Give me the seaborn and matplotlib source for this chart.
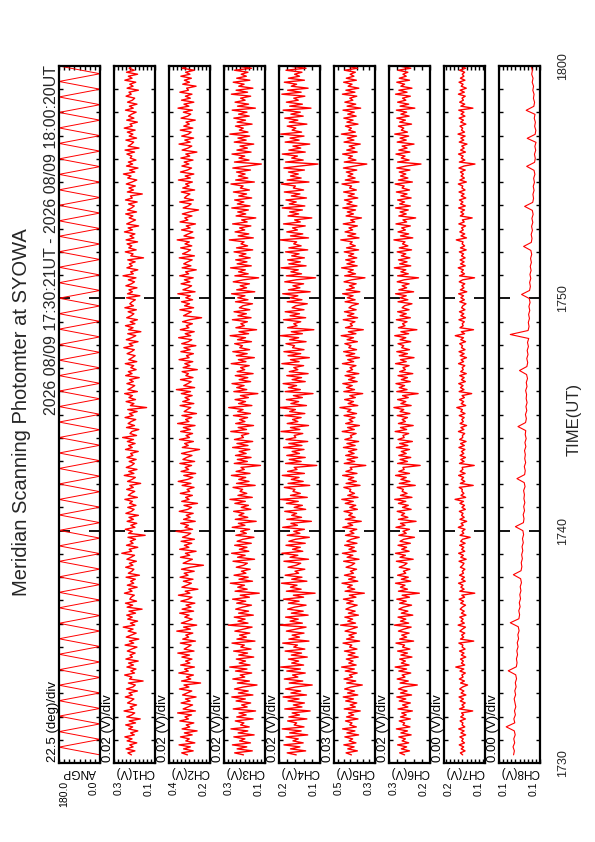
import numpy as np
import matplotlib
matplotlib.use('Agg')
import matplotlib.pyplot as plt
import seaborn as sns
from matplotlib.ticker import MultipleLocator

sns.set_theme(style='white')
plt.rcParams['font.family'] = ['Liberation Sans', 'DejaVu Sans']

TITLE = 'Meridian Scanning Photomter at SYOWA'
PERIOD = '2026 08/09 17:30:21UT - 2026 08/09 18:00:20UT'
CHANNELS = ['ANGP', 'CH1(V)', 'CH2(V)', 'CH3(V)', 'CH4(V)', 'CH5(V)', 'CH6(V)', 'CH7(V)', 'CH8(V)']
SCALE_LABELS = ['22.5 (deg)/div', '0.02 (V)/div', '0.02 (V)/div', '0.02 (V)/div', '0.02 (V)/div',
                '0.03 (V)/div', '0.02 (V)/div', '0.00 (V)/div', '0.00 (V)/div']
AXIS_MAX = [180.0, 0.3, 0.4, 0.3, 0.2, 0.5, 0.3, 0.17, 0.14]
AXIS_MIN = [0.0, 0.1, 0.2, 0.1, 0.1, 0.3, 0.2, 0.13, 0.10]
DIV = [22.5, 0.02, 0.02, 0.02, 0.02, 0.03, 0.02, 0.004, 0.004]
EDGE_LABELS = [('180.0', '0.0'), ('0.3', '0.1'), ('0.4', '0.2'), ('0.3', '0.1'), ('0.2', '0.1'),
               ('0.5', '0.3'), ('0.3', '0.2'), ('0.2', '0.1'), ('0.1', '0.1')]
TIME_TICKS = [0, 10, 20, 30]          # minutes after 17:30 UT
TIME_LABELS = ['1730', '1740', '1750', '1800']
T_START, T_END = 21 / 60, 30 + 20 / 60  # 17:30:21 .. 18:00:20

# Scan angle turning points (deg)
ANGP = [0, 180, 0, 180, 0, 180, 0, 180, 0, 180, 0, 180, 0, 180, 0, 180, 0, 180, 0, 180,
        0, 180, 0, 180, 0, 180, 0, 180, 0, 180, 0, 180, 0, 180, 0, 180, 0, 180, 0, 180,
        0, 180, 0, 180, 0, 180, 0, 180, 0, 180, 0, 180, 0, 180, 0, 180, 0, 180, 0, 180,
        0, 180, 0, 180, 0, 180, 0, 180, 0, 180, 0, 180, 0, 180, 0, 180, 0, 180, 0, 180,
        0, 180, 0, 180, 0, 180, 0, 180, 0, 180, 0]

# Channel intensities in mV
CH1_MV = [
    215, 232, 198, 241, 207, 223, 189, 236, 212, 247, 201, 219, 184, 228, 209, 243, 195, 226, 172, 238, 214, 199, 251, 206, 221,
    190, 234, 217, 203, 245, 211, 227, 186, 239, 208, 196, 230, 158, 224, 213, 248, 200, 218, 193, 237, 205, 229, 182, 242, 210,
    222, 197, 235, 214, 188, 246, 204, 225, 179, 240, 216, 192, 231, 207, 255, 199, 220, 185, 233, 211, 238, 195, 227, 163, 236,
    209, 244, 190, 223, 216, 201, 249, 212, 228, 187, 235, 204, 219, 196, 241, 176, 230, 213, 203, 243, 208, 225, 191, 237, 217,
    200, 262, 214, 226, 184, 239, 207, 221, 195, 232, 148, 229, 211, 245, 198, 218, 189, 236, 205, 227, 181, 242, 215, 202, 233,
    193, 224, 210, 247, 186, 230, 217, 199, 238, 206, 223, 170, 234, 212, 196, 250, 203, 228, 188, 240, 214, 201, 226, 192, 237,
    208, 219, 182, 244, 211, 229, 197, 235, 205, 258, 190, 222, 213, 179, 239, 200, 231, 216, 194, 246, 207, 225, 187, 233, 141,
    220, 203, 241, 195, 227, 210, 248, 186, 232, 214, 199, 237, 206, 224, 177, 243, 212, 230, 192, 218, 204, 245, 189, 228, 211,
    197, 236, 215, 201, 252, 208, 226, 183, 240, 213, 194, 233, 169, 229, 207, 244, 198, 221, 186, 238, 216, 203, 231, 191, 247,
    205, 223, 212, 196, 239, 174, 234, 210, 227, 188, 242, 215, 200, 230, 193, 256, 206, 219, 184, 237, 211, 225, 197, 233, 156,
    218, 207, 245, 192, 228, 213, 236, 185, 241, 203, 222, 198, 249, 210, 231, 180, 238, 216, 195, 226, 208, 243, 190, 234, 214,
    201, 229, 187, 244, 211, 220, 162, 235, 205, 227, 196, 240, 212, 189, 233, 217, 254, 199, 224, 183, 239, 209, 230, 193, 221,
    213, 237, 200, 246, 178, 231, 215, 204, 242, 190, 226, 208, 235, 197, 250, 211, 222, 186, 238, 203, 229, 214, 192, 244, 206,
    225, 188, 234, 210, 199, 241, 216, 227, 181, 236, 207, 223, 194, 247, 212, 230, 185, 239, 201, 226, 215, 196, 243, 208, 232]
CH2_MV = [
    310, 338, 282, 329, 296, 351, 274, 318, 301, 344, 287, 325, 263, 336, 299, 316, 279, 347, 305, 322, 290, 358, 271, 331, 308,
    285, 341, 297, 320, 268, 334, 312, 289, 349, 303, 327, 246, 339, 294, 315, 281, 352, 306, 324, 276, 343, 298, 319, 288, 337,
    300, 357, 278, 326, 309, 292, 345, 271, 333, 304, 318, 284, 362, 296, 329, 265, 340, 311, 287, 323, 302, 348, 280, 336, 293,
    317, 274, 342, 306, 288, 354, 298, 321, 259, 337, 313, 291, 330, 283, 346, 307, 326, 277, 339, 295, 232, 331, 309, 286, 344,
    299, 320, 268, 348, 303, 325, 289, 341, 276, 334, 310, 294, 366, 285, 322, 305, 343, 272, 329, 297, 316, 282, 350, 308, 290,
    327, 261, 338, 302, 319, 286, 345, 299, 312, 278, 336, 293, 355, 309, 284, 328, 270, 341, 304, 321, 290, 347, 275, 332, 314,
    288, 339, 297, 251, 335, 306, 324, 281, 349, 300, 317, 285, 343, 296, 330, 273, 358, 303, 319, 289, 337, 266, 326, 311, 294,
    346, 279, 333, 301, 322, 287, 340, 295, 364, 275, 328, 308, 292, 344, 283, 318, 305, 336, 262, 331, 298, 323, 284, 351, 302,
    315, 281, 342, 297, 327, 269, 338, 306, 289, 353, 294, 321, 277, 345, 303, 316, 286, 334, 299, 241, 329, 310, 291, 347, 280,
    324, 300, 339, 285, 318, 296, 357, 273, 332, 307, 290, 341, 298, 325, 282, 348, 304, 319, 267, 336, 293, 328, 309, 287, 350,
    276, 334, 311, 295, 343, 289, 322, 301, 360, 278, 327, 305, 284, 339, 297, 316, 271, 346, 308, 323, 288, 335, 300, 256, 331,
    306, 292, 348, 281, 325, 314, 298, 340, 275, 333, 302, 319, 286, 354, 296, 321, 279, 344, 310, 290, 337, 303, 326, 283, 342,
    299, 318, 264, 336, 307, 289, 351, 297, 323, 280, 338, 305, 292, 345, 284, 328, 301, 317, 272, 341, 309, 294, 330, 286, 356,
    303, 327, 279, 339, 296, 320, 288, 347, 305, 314, 268, 333, 300, 325, 291, 342, 298, 319, 277, 336, 310, 286, 344, 302, 321]
CH3_MV = [
    205, 248, 162, 236, 189, 259, 171, 224, 198, 252, 153, 231, 184, 266, 177, 219, 203, 245, 158, 238, 192, 227, 146, 255, 187,
    214, 170, 241, 196, 262, 159, 230, 182, 249, 207, 139, 235, 176, 257, 199, 221, 165, 244, 188, 272, 173, 226, 195, 240, 155,
    228, 185, 253, 168, 218, 201, 261, 149, 237, 191, 224, 174, 247, 206, 163, 279, 183, 232, 197, 250, 157, 229, 180, 243, 210,
    166, 238, 194, 258, 176, 221, 128, 246, 187, 233, 200, 269, 161, 227, 182, 251, 193, 215, 172, 240, 204, 186, 256, 151, 234,
    197, 263, 179, 225, 188, 248, 167, 236, 208, 154, 242, 191, 219, 175, 260, 198, 230, 143, 245, 184, 227, 203, 253, 169, 216,
    181, 247, 196, 271, 162, 232, 189, 222, 209, 256, 148, 239, 178, 228, 194, 264, 173, 241, 201, 217, 122, 250, 186, 235, 168,
    244, 192, 226, 174, 258, 183, 237, 160, 249, 205, 215, 179, 267, 190, 231, 156, 243, 198, 224, 185, 254, 171, 233, 207, 277,
    164, 229, 195, 246, 181, 220, 135, 252, 189, 238, 202, 261, 170, 226, 184, 245, 158, 236, 199, 219, 177, 265, 193, 230, 152,
    240, 187, 257, 175, 223, 210, 248, 166, 234, 195, 270, 180, 227, 141, 242, 201, 218, 186, 259, 168, 232, 191, 251, 174, 225,
    208, 161, 244, 183, 233, 198, 263, 150, 238, 190, 221, 176, 255, 204, 131, 247, 182, 229, 196, 268, 167, 236, 188, 243, 172,
    226, 193, 251, 160, 239, 185, 217, 202, 274, 157, 231, 179, 246, 199, 224, 169, 258, 187, 214, 145, 241, 194, 233, 181, 262,
    173, 235, 203, 248, 165, 228, 190, 254, 176, 220, 207, 266, 152, 243, 184, 230, 197, 239, 171, 257, 189, 118, 249, 178, 227,
    199, 261, 168, 237, 186, 222, 155, 250, 192, 232, 175, 271, 183, 225, 206, 244, 163, 236, 195, 252, 177, 229, 188, 260, 147,
    234, 180, 246, 197, 219, 170, 264, 185, 241, 159, 228, 202, 255, 174, 238, 191, 216, 183, 249, 166, 231, 204, 243, 176, 222]
CH4_MV = [
    158, 180, 135, 172, 149, 188, 141, 166, 153, 183, 130, 174, 146, 192, 139, 163, 157, 179, 132, 176, 150, 168, 124, 186, 144,
    165, 138, 178, 151, 190, 133, 171, 147, 184, 160, 119, 175, 142, 187, 154, 167, 136, 181, 148, 196, 140, 169, 152, 177, 131,
    170, 145, 185, 137, 164, 155, 191, 127, 176, 150, 168, 139, 182, 159, 134, 199, 143, 173, 153, 184, 129, 170, 141, 179, 162,
    134, 177, 151, 189, 140, 165, 112, 182, 146, 172, 156, 194, 132, 169, 144, 185, 152, 161, 137, 178, 158, 147, 188, 128, 173,
    154, 193, 142, 167, 148, 183, 136, 176, 160, 126, 180, 149, 164, 138, 191, 155, 171, 121, 181, 145, 169, 157, 186, 135, 163,
    143, 182, 153, 197, 131, 172, 148, 166, 161, 187, 125, 178, 141, 170, 151, 192, 138, 179, 156, 163, 108, 184, 146, 175, 136,
    181, 150, 168, 139, 189, 144, 176, 130, 183, 159, 163, 142, 195, 149, 172, 128, 180, 154, 167, 146, 186, 137, 174, 160, 200,
    133, 171, 152, 182, 143, 165, 117, 185, 148, 177, 157, 190, 136, 168, 145, 181, 129, 175, 154, 164, 140, 193, 151, 172, 126,
    178, 147, 188, 139, 167, 162, 183, 134, 174, 152, 197, 143, 170, 115, 179, 156, 164, 147, 189, 135, 173, 150, 185, 139, 168,
    159, 131, 180, 144, 173, 154, 191, 124, 177, 149, 166, 140, 186, 158, 111, 182, 145, 171, 153, 195, 134, 176, 148, 179, 138,
    169, 151, 184, 130, 176, 146, 164, 157, 198, 128, 172, 142, 181, 155, 167, 136, 189, 148, 162, 120, 178, 152, 174, 143, 192,
    137, 175, 158, 183, 133, 170, 149, 187, 140, 165, 160, 194, 127, 180, 146, 172, 153, 177, 138, 188, 149, 105, 184, 141, 169,
    155, 192, 136, 176, 147, 166, 125, 185, 151, 173, 139, 196, 145, 168, 159, 180, 132, 175, 154, 186, 141, 171, 148, 190, 122,
    174, 143, 182, 153, 164, 137, 193, 146, 179, 129, 170, 157, 187, 138, 177, 150, 162, 144, 183, 134, 172, 158, 181, 140, 167]
CH5_MV = [
    415, 441, 386, 433, 402, 452, 393, 426, 409, 447, 380, 437, 398, 458, 391, 423, 412, 444, 383, 439, 404, 429, 372, 450, 396,
    421, 389, 443, 405, 455, 384, 434, 400, 448, 417, 362, 438, 394, 451, 410, 425, 387, 445, 401, 463, 392, 428, 407, 440, 382,
    431, 398, 449, 388, 424, 413, 456, 375, 439, 403, 427, 391, 446, 416, 386, 468, 395, 433, 409, 447, 381, 430, 397, 442, 419,
    387, 438, 406, 454, 393, 425, 352, 446, 399, 434, 411, 461, 384, 429, 396, 449, 405, 420, 390, 441, 414, 399, 453, 378, 436,
    408, 459, 392, 427, 401, 448, 388, 437, 416, 377, 444, 403, 422, 389, 457, 409, 432, 367, 445, 397, 428, 411, 451, 386, 423,
    394, 445, 406, 462, 383, 433, 400, 424, 418, 452, 373, 441, 391, 430, 404, 458, 388, 442, 412, 421, 345, 450, 399, 436, 385,
    443, 402, 429, 389, 454, 397, 437, 380, 447, 413, 420, 392, 460, 401, 434, 376, 443, 408, 426, 398, 451, 390, 435, 417, 471,
    384, 431, 405, 448, 396, 423, 360, 452, 400, 439, 411, 457, 387, 429, 398, 446, 379, 437, 409, 422, 393, 459, 404, 433, 376,
    441, 399, 453, 390, 428, 417, 447, 386, 436, 405, 465, 393, 430, 357, 444, 410, 421, 398, 455, 385, 434, 403, 449, 392, 427,
    413, 381, 446, 397, 435, 407, 458, 374, 440, 401, 425, 392, 451, 414, 349, 448, 395, 431, 406, 463, 387, 437, 400, 443, 389,
    429, 404, 450, 380, 439, 396, 422, 411, 467, 378, 433, 394, 446, 409, 427, 386, 455, 399, 419, 366, 441, 405, 435, 395, 457,
    388, 437, 412, 449, 384, 431, 401, 453, 391, 424, 414, 461, 378, 445, 397, 432, 408, 440, 389, 454, 400, 340, 450, 393, 430,
    410, 458, 387, 438, 399, 426, 372, 451, 403, 435, 390, 464, 396, 428, 415, 444, 383, 437, 407, 452, 392, 433, 401, 456, 370,
    436, 394, 447, 408, 423, 389, 459, 398, 442, 379, 431, 412, 453, 391, 440, 403, 421, 396, 448, 385, 434, 411, 446, 392, 428]
CH6_MV = [
    262, 274, 250, 270, 257, 279, 252, 268, 260, 276, 246, 271, 255, 282, 249, 266, 262, 275, 248, 272, 258, 269, 243, 278, 254,
    267, 248, 275, 259, 281, 245, 272, 256, 277, 264, 231, 273, 253, 280, 261, 268, 247, 276, 257, 285, 251, 270, 260, 274, 244,
    271, 255, 279, 249, 267, 262, 283, 240, 274, 257, 269, 251, 277, 264, 246, 287, 252, 272, 259, 278, 242, 270, 254, 276, 265,
    245, 274, 258, 281, 250, 268, 226, 277, 255, 272, 261, 284, 247, 270, 253, 279, 259, 265, 249, 275, 263, 256, 282, 241, 273,
    260, 284, 251, 269, 257, 278, 248, 273, 264, 238, 276, 258, 266, 250, 283, 261, 272, 234, 277, 254, 270, 262, 280, 246, 267,
    253, 277, 259, 286, 244, 272, 256, 268, 265, 280, 236, 275, 249, 271, 258, 284, 250, 276, 263, 266, 224, 279, 255, 273, 247,
    276, 258, 270, 250, 282, 254, 274, 243, 278, 263, 266, 252, 285, 257, 272, 241, 277, 260, 268, 255, 280, 249, 273, 264, 288,
    246, 271, 259, 279, 253, 267, 229, 281, 256, 275, 262, 283, 248, 270, 255, 278, 242, 274, 260, 266, 251, 284, 258, 272, 239,
    275, 255, 281, 250, 269, 264, 278, 247, 273, 259, 286, 252, 271, 232, 277, 261, 267, 256, 282, 248, 273, 258, 279, 251, 268,
    262, 244, 278, 254, 273, 258, 284, 240, 276, 257, 268, 251, 280, 263, 228, 279, 253, 271, 259, 287, 247, 274, 256, 277, 249,
    270, 259, 280, 245, 275, 254, 267, 261, 288, 242, 272, 252, 278, 260, 269, 248, 283, 257, 266, 235, 276, 258, 273, 253, 284,
    248, 274, 262, 279, 246, 271, 256, 282, 250, 268, 263, 285, 243, 277, 254, 272, 259, 275, 249, 281, 257, 222, 279, 251, 270,
    261, 283, 249, 276, 256, 268, 239, 280, 258, 273, 252, 286, 255, 270, 264, 277, 245, 274, 260, 281, 251, 271, 257, 282, 237,
    273, 252, 279, 259, 267, 248, 284, 256, 276, 244, 271, 262, 281, 250, 275, 258, 266, 254, 278, 247, 272, 260, 280, 251, 269]
# CH7 / CH8 in units of 0.1 mV
CH7_DMV = [
    1518, 1540, 1495, 1532, 1508, 1551, 1500, 1527, 1512, 1545, 1489, 1535, 1504, 1556, 1497, 1524, 1515, 1543, 1491, 1537, 1509, 1529, 1420, 1549, 1503,
    1525, 1493, 1541, 1510, 1553, 1487, 1533, 1506, 1547, 1519, 1470, 1538, 1501, 1550, 1514, 1526, 1492, 1544, 1507, 1585, 1498, 1530, 1511, 1539, 1488,
    1531, 1505, 1548, 1494, 1523, 1516, 1555, 1410, 1539, 1508, 1528, 1497, 1545, 1520, 1491, 1562, 1502, 1534, 1513, 1546, 1486, 1530, 1503, 1542, 1522,
    1490, 1537, 1509, 1552, 1499, 1526, 1400, 1546, 1504, 1535, 1515, 1558, 1493, 1529, 1501, 1548, 1510, 1522, 1496, 1540, 1518, 1505, 1553, 1484, 1536,
    1511, 1557, 1498, 1528, 1507, 1547, 1494, 1537, 1519, 1445, 1543, 1508, 1524, 1495, 1560, 1512, 1533, 1479, 1544, 1503, 1529, 1514, 1550, 1492, 1525,
    1500, 1545, 1510, 1592, 1489, 1534, 1506, 1526, 1521, 1551, 1415, 1541, 1497, 1531, 1509, 1557, 1494, 1542, 1516, 1523, 1405, 1549, 1504, 1536, 1491,
    1543, 1507, 1530, 1496, 1554, 1502, 1538, 1485, 1547, 1517, 1521, 1498, 1559, 1506, 1535, 1480, 1543, 1511, 1527, 1503, 1551, 1495, 1536, 1520, 1575,
    1489, 1532, 1508, 1548, 1501, 1524, 1430, 1552, 1505, 1539, 1514, 1556, 1492, 1530, 1503, 1546, 1483, 1537, 1512, 1523, 1497, 1558, 1509, 1533, 1481,
    1542, 1504, 1553, 1495, 1529, 1519, 1547, 1490, 1536, 1510, 1590, 1499, 1531, 1412, 1544, 1513, 1522, 1502, 1554, 1491, 1535, 1507, 1549, 1496, 1528,
    1516, 1486, 1546, 1501, 1535, 1510, 1557, 1478, 1540, 1505, 1526, 1497, 1551, 1517, 1402, 1548, 1500, 1532, 1511, 1561, 1493, 1538, 1504, 1543, 1494,
    1530, 1509, 1550, 1484, 1539, 1499, 1523, 1514, 1580, 1481, 1534, 1498, 1546, 1512, 1528, 1490, 1555, 1503, 1521, 1425, 1541, 1508, 1536, 1500, 1557,
    1492, 1538, 1515, 1549, 1488, 1532, 1504, 1553, 1495, 1525, 1517, 1560, 1482, 1545, 1501, 1533, 1511, 1540, 1493, 1554, 1505, 1398, 1550, 1497, 1531,
    1513, 1558, 1491, 1538, 1503, 1527, 1476, 1551, 1507, 1536, 1494, 1563, 1500, 1529, 1518, 1544, 1487, 1537, 1510, 1552, 1496, 1534, 1505, 1556, 1418,
    1535, 1498, 1547, 1511, 1524, 1493, 1559, 1502, 1542, 1483, 1532, 1514, 1553, 1496, 1540, 1506, 1522, 1499, 1548, 1489, 1534, 1515, 1546, 1497, 1529]
CH8_DMV = [
    1258, 1250, 1263, 1247, 1256, 1242, 1251, 1330, 1246, 1255, 1240, 1249, 1236, 1244, 1252, 1238, 1246, 1233, 1241, 1229, 1237, 1310, 1231, 1224, 1230,
    1219, 1226, 1214, 1222, 1209, 1216, 1204, 1212, 1290, 1206, 1199, 1207, 1194, 1202, 1190, 1197, 1186, 1193, 1181, 1189, 1260, 1185, 1177, 1183, 1172,
    1179, 1168, 1175, 1163, 1171, 1160, 1167, 1240, 1162, 1156, 1164, 1151, 1159, 1148, 1157, 1152, 1160, 1146, 1154, 1225, 1150, 1144, 1153, 1140, 1149,
    1143, 1151, 1138, 1147, 1135, 1144, 1139, 1215, 1141, 1133, 1142, 1129, 1137, 1126, 1135, 1131, 1140, 1127, 1134, 1122, 1131, 1200, 1128, 1120, 1129,
    1117, 1125, 1113, 1122, 1110, 1290, 1116, 1107, 1114, 1103, 1111, 1100, 1108, 1097, 1105, 1180, 1102, 1094, 1101, 1090, 1098, 1087, 1095, 1084, 1092,
    1081, 1089, 1160, 1085, 1078, 1086, 1074, 1082, 1070, 1079, 1067, 1075, 1150, 1071, 1063, 1069, 1058, 1066, 1054, 1062, 1050, 1058, 1130, 1053, 1046,
    1054, 1042, 1050, 1039, 1125, 1047, 1041, 1052, 1045, 1056, 1049, 1135, 1060, 1053, 1064, 1058, 1070, 1063, 1076, 1068, 1081, 1074, 1087, 1079, 1090]

series = [np.array(ANGP, dtype=float),
          np.array(CH1_MV) / 1000, np.array(CH2_MV) / 1000, np.array(CH3_MV) / 1000,
          np.array(CH4_MV) / 1000, np.array(CH5_MV) / 1000, np.array(CH6_MV) / 1000,
          np.array(CH7_DMV) / 10000, np.array(CH8_DMV) / 10000]
LINE_WIDTHS = [0.7, 1.0, 1.0, 1.0, 1.0, 1.0, 1.0, 1.0, 0.8]

W, H = 595, 842
fig = plt.figure(figsize=(W / 100, H / 100), dpi=100)
fig.patch.set_facecolor('white')

TOP, BOTTOM = 66, 763
PW, STEP, X0 = 41, 55, 59


def fx(px):
    return px / W


def fy(py):
    return 1 - py / H


for i, vals in enumerate(series):
    L = X0 + STEP * i
    ax = fig.add_axes([fx(L), fy(BOTTOM), PW / W, (BOTTOM - TOP) / H])
    t = np.linspace(T_START, T_END, len(vals))
    sns.lineplot(x=vals, y=t, orient='y', sort=False, estimator=None,
                 color='#ff0000', linewidth=LINE_WIDTHS[i], ax=ax, legend=False)
    ax.set_xlim(AXIS_MAX[i], AXIS_MIN[i])
    ax.set_ylim(0, 30)
    ax.set_xlabel('')
    ax.set_ylabel('')
    ax.set_facecolor('white')
    ax.yaxis.set_major_locator(MultipleLocator(10))
    ax.yaxis.set_minor_locator(MultipleLocator(1))
    ax.xaxis.set_major_locator(MultipleLocator(DIV[i]))
    ax.tick_params(axis='both', which='both', direction='in', top=True, bottom=True,
                   left=True, right=True, labelbottom=False, labelleft=False,
                   labeltop=False, labelright=False, color='black')
    ax.tick_params(axis='y', which='major', length=8, width=1.3)
    ax.tick_params(axis='y', which='minor', length=3, width=1.0)
    ax.tick_params(axis='x', which='major', length=3, width=1.0)
    for sp in ax.spines.values():
        sp.set_visible(True)
        sp.set_color('black')
        sp.set_linewidth(1.6)

    # labels around the panel
    fig.text(fx(L - 6), fy(762), SCALE_LABELS[i], rotation=90, ha='center', va='bottom',
             fontsize=9.5, color='black')
    fig.text(fx(L + PW / 2), fy(772), CHANNELS[i], rotation=180, ha='center', va='center',
             fontsize=8.5, color='black')
    fig.text(fx(L + 5), fy(781), EDGE_LABELS[i][0], rotation=90, ha='center', va='top',
             fontsize=7.5, color='black')
    fig.text(fx(L + PW - 6), fy(781), EDGE_LABELS[i][1], rotation=90, ha='center', va='top',
             fontsize=7.5, color='black')

for tt, lab in zip(TIME_TICKS, TIME_LABELS):
    py = BOTTOM - (BOTTOM - TOP) * tt / 30
    fig.text(fx(563), fy(py), lab, rotation=90, ha='center', va='center', fontsize=9)

fig.text(fx(574), fy(419), 'TIME(UT)', rotation=90, ha='center', va='center', fontsize=12)
fig.text(fx(22), fy(412), TITLE, rotation=90, ha='center', va='center', fontsize=14.5)
fig.text(fx(52), fy(65), PERIOD, rotation=90, ha='center', va='top', fontsize=11.5)

fig.savefig('out.png', dpi=100, facecolor='white')
